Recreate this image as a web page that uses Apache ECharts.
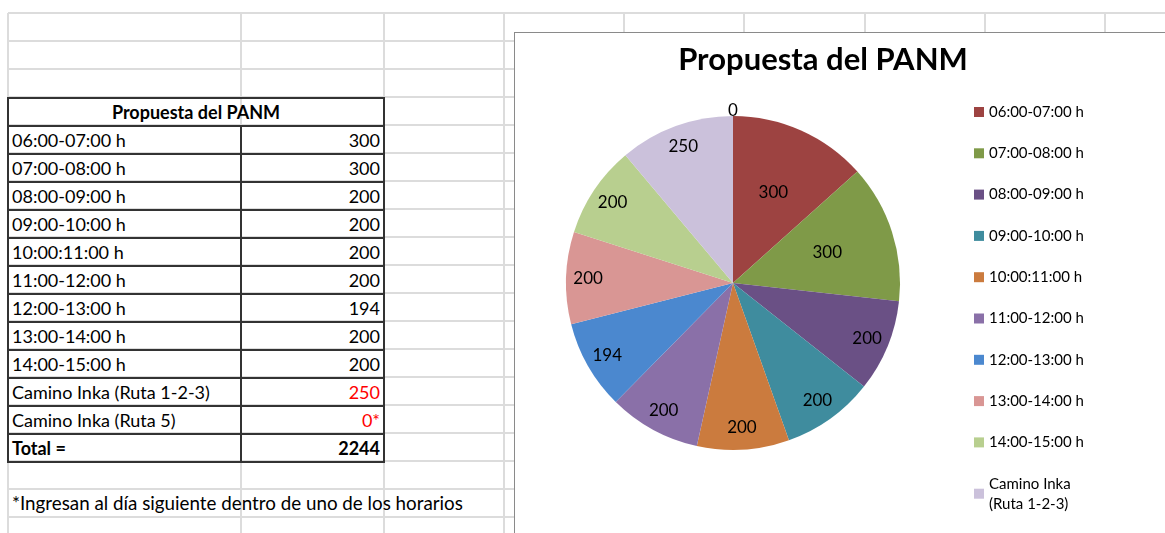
<!DOCTYPE html>
<html>
<head>
<meta charset="utf-8">
<script src="https://cdn.jsdelivr.net/npm/echarts@6/dist/echarts.min.js"></script>
<style>
html,body{margin:0;padding:0;width:1165px;height:533px;overflow:hidden;background:#fff;}
body{position:relative;font-family:Lato,'Open Sans',sans-serif;color:#000;}
.gl{position:absolute;background:#dcdcdc;}
.tl{position:absolute;background:#333;}
.cell{position:absolute;height:28px;line-height:28px;font-size:18px;white-space:nowrap;}
#frame{position:absolute;left:514px;top:32px;width:700px;height:600px;border-left:1.5px solid #8a8a8a;border-top:1.5px solid #8a8a8a;background:#fff;}
#chart{position:absolute;left:515px;top:33px;width:650px;height:500px;}
</style>
</head>
<body>
<div id="sheet"></div>
<div id="frame"></div>
<div id="chart"></div>
<script>
// ---- data ----
var categories = ['06:00-07:00 h','07:00-08:00 h','08:00-09:00 h','09:00-10:00 h','10:00:11:00 h','11:00-12:00 h','12:00-13:00 h','13:00-14:00 h','14:00-15:00 h','Camino Inka (Ruta 1-2-3)','Camino Inka (Ruta 5)'];
var values = [300,300,200,200,200,200,194,200,200,250,0];
var tableValueText = ['300','300','200','200','200','200','194','200','200','250','0*'];
var redRows = [9,10];
var totalLabel = 'Total =';
var totalValue = 2244;
var tableTitle = 'Propuesta del PANM';
var chartTitle = 'Propuesta del PANM';
var footnote = '*Ingresan al día siguiente dentro de uno de los horarios';
var colors = ['#9D4341','#7F9A48','#6A5085','#3F8C9E','#CB7B3E','#8A70A8','#4B88CF','#D99694','#B8CF8F','#CBC1DB','#7B2E2C'];

// ---- spreadsheet grid ----
var sheet = document.getElementById('sheet');
var colEdges = [8,241,384,504,624,744,865,985,1105];
function add(cls, l, t, w, h){var d=document.createElement('div');d.className=cls;d.style.left=l+'px';d.style.top=t+'px';d.style.width=w+'px';d.style.height=h+'px';sheet.appendChild(d);return d;}
for (var y = 13; y < 533; y += 28) add('gl', 8, y-1, 1157, 2);
colEdges.forEach(function(x){ add('gl', x-1, 13, 2, 520); });

// ---- table ----
var tTop = 98, rowH = 28, tL = 8, tM = 241, tR = 384;
var nRows = categories.length + 2;
for (var k = 0; k <= nRows; k++) add('tl', tL-1, tTop + k*rowH - 1, tR - tL + 2, 2);
add('tl', tL-1, tTop-1, 2, nRows*rowH + 2);
add('tl', tR-1, tTop-1, 2, nRows*rowH + 2);
add('tl', tM-1, tTop+rowH-1, 2, (nRows-1)*rowH + 2);
function cell(text, left, top, width, align, bold, color, size){
  var d = add('cell', left, top, width, 28);
  d.textContent = text; d.style.textAlign = align;
  if (bold) d.style.fontWeight = 'bold';
  if (color) d.style.color = color;
  if (size) d.style.fontSize = size + 'px';
}
cell(tableTitle, tL, tTop, tR-tL, 'center', true);
categories.forEach(function(c, i){
  var top = tTop + (i+1)*rowH;
  cell(c, tL+4, top, tM-tL-6, 'left', false);
  cell(tableValueText[i], tM, top, tR-tM-4, 'right', false, redRows.indexOf(i) >= 0 ? '#ff0000' : null);
});
var totTop = tTop + (categories.length+1)*rowH;
cell(totalLabel, tL+4, totTop, tM-tL-6, 'left', true);
cell(String(totalValue), tM, totTop, tR-tM-4, 'right', true);
cell(footnote, tL+4, 13 + 17*28, 620, 'left', false, null, 18.8);

// ---- chart ----
var chart = echarts.init(document.getElementById('chart'));
var R = 167, C = [218, 250];
var labelFont = {fontFamily: 'Lato', fontSize: 17, color: '#000', formatter: '{c}'};
function overlay(radius, showFn){
  return {
    type: 'pie', radius: radius, center: C, startAngle: 90, clockwise: true,
    silent: true, avoidLabelOverlap: false,
    itemStyle: {color: 'rgba(0,0,0,0)', borderWidth: 0},
    label: Object.assign({show: true, position: 'inside'}, labelFont),
    labelLine: {show: false},
    data: categories.map(function(c, i){
      var o = {name: c, value: values[i]};
      if (!showFn(i)) o.label = {show: false};
      return o;
    })
  };
}
var legendNames = categories.slice(0, 10);
chart.setOption({
  animation: false,
  title: {
    text: chartTitle, left: 303, top: 6, textAlign: 'center',
    textStyle: {fontFamily: 'Lato', fontWeight: 'bold', fontSize: 31, color: '#000'}
  },
  legend: {
    orient: 'vertical', left: 459, top: 69, padding: 0,
    itemWidth: 10, itemHeight: 10, itemGap: 21.3, icon: 'rect',
    data: legendNames,
    formatter: function(n){ return n.replace(' (', '\n('); },
    textStyle: {fontFamily: 'Lato', fontSize: 15, lineHeight: 20, color: '#000'}
  },
  series: [
    {
      type: 'pie', radius: R, center: C, startAngle: 90, clockwise: true,
      label: {show: false}, labelLine: {show: false},
      itemStyle: {borderWidth: 0},
      data: categories.map(function(c, i){
        return {name: c, value: values[i], itemStyle: {color: colors[i]}};
      })
    },
    overlay([117, R], function(i){ return i >= 2 && values[i] > 0; }),
    overlay([58, 134], function(i){ return i < 2; }),
    overlay([R - 4, R + 8], function(i){ return values[i] === 0; })
  ]
});
</script>
</body>
</html>
